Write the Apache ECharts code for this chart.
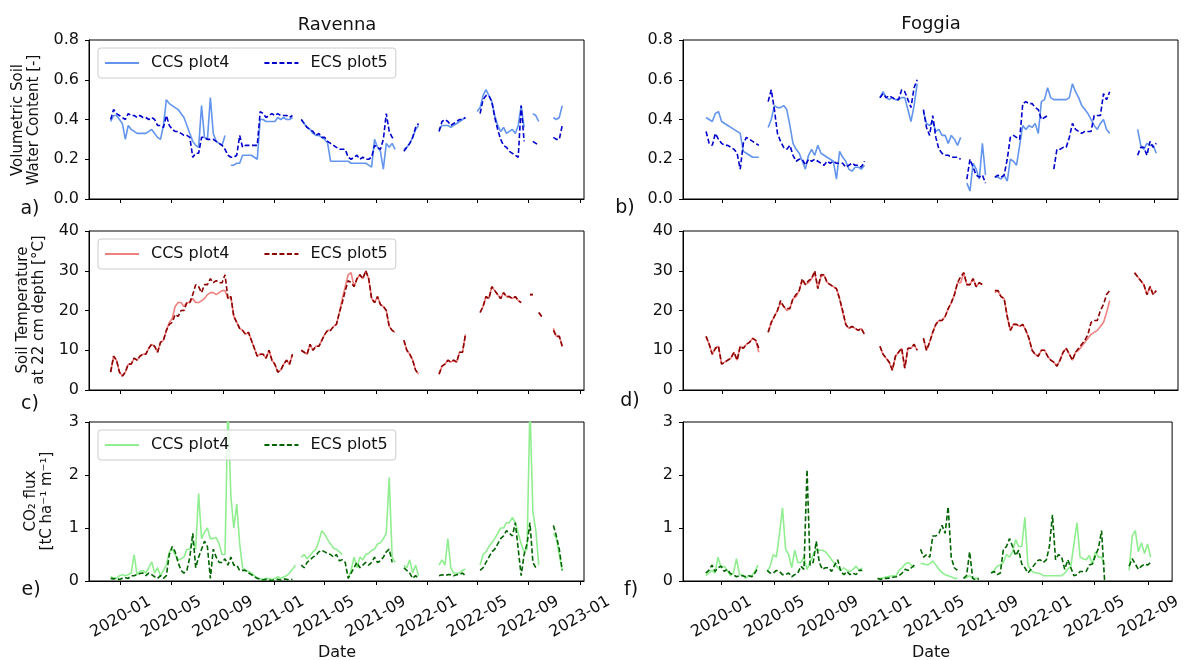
<!DOCTYPE html>
<html><head><meta charset="utf-8">
<script src="https://cdn.jsdelivr.net/npm/echarts@6/dist/echarts.min.js"></script>
<style>html,body{margin:0;padding:0;background:#fff}#c{width:1184px;height:660px}</style>
</head><body><div id="c"></div>
<script>
// Sampling: weekly values, day offsets relative to 2020-01-01
const STEP = 7;
const RAV_START = -24;   // first Ravenna sample (days from 2020-01-01)
const FOG_START = -36;   // first Foggia sample

const leftTicks = ['2020-01','2020-05','2020-09','2021-01','2021-05','2021-09','2022-01','2022-05','2022-09','2023-01'];
const rightTicks = ['2020-01','2020-05','2020-09','2021-01','2021-05','2021-09','2022-01','2022-05','2022-09'];
const legendNames = ['CCS plot4','ECS plot5'];

// Ravenna – volumetric soil water content
const ravVwcCcs = [
0.39,0.42,0.42,0.40,0.38,0.30,0.37,0.35,0.34,0.33,
0.33,0.33,0.33,0.34,0.35,0.33,0.31,0.30,0.37,0.50,
0.48,0.47,0.46,0.45,0.43,0.41,0.37,0.33,0.29,0.27,
0.26,0.47,0.31,0.30,0.51,0.33,0.29,0.28,0.27,0.32,
null,0.17,0.17,0.18,0.18,0.22,0.22,0.22,0.22,0.21,
0.20,0.40,0.40,0.39,0.39,0.39,0.39,0.41,0.40,0.41,
0.40,0.40,0.41,null,null,0.40,0.38,0.36,0.35,0.33,
0.32,0.32,0.31,0.30,0.28,0.19,0.19,0.19,0.19,0.19,
0.19,0.19,0.18,0.18,0.18,0.18,0.18,0.18,0.17,0.16,
0.30,0.26,0.24,0.15,0.28,0.26,0.28,0.25,null,null,
0.25,0.26,0.28,0.31,0.35,0.37,null,null,null,null,
null,null,0.35,0.37,0.37,0.37,0.36,0.37,0.38,0.39,
0.40,0.41,null,null,null,0.44,0.46,0.52,0.55,0.52,
0.49,0.42,0.37,0.34,0.36,0.33,0.34,0.35,0.33,0.37,
0.47,0.36,null,null,0.43,0.42,0.39,null,null,null,
null,0.41,0.40,0.41,0.47];
const ravVwcEcs = [
0.40,0.45,0.43,0.42,0.41,0.40,0.43,0.42,0.42,0.41,
0.42,0.41,0.41,0.40,0.41,0.40,0.37,0.37,0.36,0.42,
0.37,0.35,0.34,0.34,0.33,0.32,0.32,0.31,0.21,0.23,
0.23,0.31,0.31,0.30,0.30,0.30,0.29,0.28,0.27,0.25,
0.22,0.21,0.21,0.22,0.32,0.26,0.27,0.27,0.27,0.27,
0.27,0.44,0.43,0.41,0.42,0.43,0.42,0.43,0.42,0.42,
0.42,0.41,0.42,null,null,0.40,0.38,0.36,0.35,0.34,
0.32,0.33,0.31,0.31,0.29,0.28,0.27,0.26,0.25,0.25,
0.25,0.21,0.20,0.21,0.22,0.20,0.21,0.20,0.20,0.21,
0.27,0.26,0.25,0.30,0.43,0.34,0.31,0.30,null,null,
0.24,0.26,0.28,0.31,0.36,0.38,null,null,null,null,
null,null,0.34,0.39,0.40,0.39,0.37,0.38,0.39,0.40,
0.40,0.41,null,null,null,null,0.43,0.50,0.52,0.52,
0.49,0.41,0.35,0.30,0.27,0.26,0.24,0.23,0.22,0.21,
0.47,0.29,null,null,0.29,0.28,0.27,null,null,null,
null,0.31,0.30,0.30,0.37];

// Ravenna – soil temperature
const ravTempCcs = [
4.5,8.5,7.5,4.5,3.5,4.5,6.5,6.5,8,7.5,
8.5,9,9,10.5,11.5,11,9.5,12,12.5,15,
17,18,21,22,22,21,22,22,23,22,
22,22.5,23,24,24.5,24.5,24,24.5,25,25,
23,23.5,18.5,17,15.5,15,14,14.5,12.5,10.5,
8.5,9,9,8,10,7.5,6.5,4.5,5,6.5,
7.5,6.5,9,null,null,10,9.5,9,11.5,10,
11,11,12.5,14,15,15,16,16.5,19.5,23,
26,29,29.5,26,28,29,28,30,28,23,
22,23.5,21.5,21,20,16,15,14.5,null,null,
12.5,10,9,7.5,5,4,null,null,null,null,
null,null,4,6,6.5,7.5,7,7.5,7,9.5,
9.5,14,null,null,null,null,19.5,21,23.5,23,
26,25,24,23,24.5,23.5,23.5,23,23.5,22.5,
22,null,null,24,24,null,19.5,18.5,null,null,
null,15.5,13.5,13.5,11];
const ravTempEcs = [
4.5,8.5,7.5,4.5,3.5,4.5,6.5,6.5,8,7.5,
8.5,9,9,10.5,11.5,11,9.5,12,12.5,15,
16.5,17,19,18.5,20,20,22,22,24,26.5,
26,24.5,26.5,26.5,28,27,27.5,27,27,29,
23,23.5,18.5,17,15.5,15,14,14.5,12.5,10.5,
8.5,9,9,8,10,7.5,6.5,4.5,5,6.5,
7.5,6.5,9,null,null,10,9.5,9,11.5,10,
11,11,12.5,14,15,15,16,16.5,19.5,22,
25,27.5,27,26,28,29,28,30,28,23,
22,23.5,21.5,21,20,16,15,14.5,null,null,
12.5,10,9,7.5,5,4,null,null,null,null,
null,null,4,6,6.5,7.5,7,7.5,7,9.5,
9.5,14,null,null,null,null,19.5,21,23.5,23,
26,25,24,23,24.5,23.5,23.5,23,23.5,22.5,
22,null,null,24,24,null,19.5,18.5,null,null,
null,15,13.5,13.5,11];

// Ravenna – CO2 flux
const ravCo2Ccs = [
0.08,0.06,0.05,0.10,0.12,0.10,0.12,0.15,0.50,0.12,
0.18,0.20,0.15,0.25,0.36,0.15,0.25,0.10,0.20,0.30,
0.55,0.60,0.50,0.40,0.42,0.45,0.60,0.60,0.75,0.60,
1.65,0.80,0.92,1.00,0.80,0.80,0.82,0.70,0.50,0.50,
3.3,1.6,1.0,1.45,0.70,0.25,0.20,0.18,0.15,0.10,
0.06,0.04,0.03,0.05,0.04,0.03,0.05,0.08,0.05,0.08,
0.10,0.15,0.22,0.30,null,0.45,0.50,0.42,0.48,0.55,
0.60,0.75,0.95,0.88,0.78,0.70,0.62,0.60,0.55,0.50,
null,0.05,0.20,0.45,0.25,0.45,0.40,0.50,0.52,0.58,
0.60,0.70,0.72,0.80,0.90,1.95,0.45,0.35,null,null,
0.30,0.25,0.40,0.15,0.30,0.10,null,null,null,null,
null,null,0.30,0.40,0.30,0.80,0.25,0.15,0.15,0.15,
0.20,0.22,null,null,null,null,0.30,0.50,0.55,0.65,
0.72,0.80,0.90,1.00,1.00,1.10,1.10,1.20,1.10,0.90,
0.70,0.55,0.60,3.3,1.30,0.95,0.30,null,null,null,
null,0.90,0.80,0.50,0.20];
const ravCo2Ecs = [
0.05,0.04,0.05,0.03,0.05,0.06,0.05,0.10,0.10,0.12,
0.14,0.15,0.10,0.15,0.12,0.08,0.05,0.10,0.05,0.10,
0.50,0.65,0.55,0.35,0.20,0.15,0.20,0.45,0.90,0.25,
0.45,0.60,0.75,0.65,0.05,0.60,0.45,0.35,0.35,0.42,
0.30,0.45,0.30,0.30,0.20,0.20,0.20,0.15,0.12,0.08,
0.05,0.03,0.02,0.03,0.02,0.01,0.02,0.03,0.02,0.04,
0.03,0.02,0.03,null,null,0.30,0.25,0.35,0.40,0.45,
0.48,0.55,0.58,0.55,0.52,0.50,0.45,0.50,0.38,0.40,
0.35,0.05,0.15,0.25,0.35,0.25,0.30,0.35,0.30,0.35,
0.45,0.35,0.38,0.45,0.55,0.60,0.35,null,null,null,
0.25,0.20,0.15,0.05,0.10,0.05,null,null,null,null,
null,null,0.10,0.12,0.10,0.12,0.12,0.10,0.12,0.12,
0.15,0.10,null,null,null,null,0.20,0.25,0.35,0.45,
0.55,0.60,0.70,0.80,0.85,0.95,0.90,0.85,1.10,0.60,
0.10,0.50,0.70,1.10,0.35,0.25,null,null,null,null,
null,1.05,0.85,0.60,0.20];

// Foggia – volumetric soil water content
const fogVwcCcs = [
0.41,0.40,0.39,0.43,0.44,0.39,0.38,0.37,0.36,0.35,
0.34,0.33,0.24,0.23,0.22,0.21,0.21,0.21,null,null,
0.36,0.40,0.47,0.46,0.46,0.47,0.45,0.37,0.28,0.25,
0.23,0.19,0.15,0.22,0.25,0.22,0.27,0.23,0.22,0.21,
0.20,0.19,0.10,0.24,0.21,0.19,0.15,0.14,0.16,0.16,
0.15,0.17,null,null,null,null,0.51,0.54,0.51,0.50,
0.51,0.50,0.50,0.51,0.51,0.45,0.39,0.47,0.58,null,
0.44,0.38,0.37,0.39,0.34,0.35,0.32,0.32,0.28,0.32,
0.30,0.27,0.31,null,0.08,0.04,0.18,0.15,0.10,0.28,
0.12,null,null,0.11,0.11,0.10,0.12,0.09,0.20,0.19,
0.17,0.27,0.37,0.35,0.37,0.36,0.38,0.33,0.49,0.50,
0.56,0.51,0.50,0.50,0.50,0.50,0.50,0.51,0.58,0.54,
0.51,0.47,0.45,0.43,0.40,0.37,0.35,0.38,0.40,0.35,
0.33,null,null,null,null,null,null,null,null,0.35,
0.27,0.25,0.28,0.27,0.27,0.23];
const fogVwcEcs = [
0.34,0.28,0.27,0.33,0.30,0.28,0.27,0.27,0.26,0.25,
0.23,0.15,0.28,0.31,0.30,0.29,0.28,0.27,null,null,
0.49,0.55,0.45,0.33,0.29,0.26,0.25,0.27,0.22,0.19,
0.20,0.20,0.17,0.20,0.19,0.20,0.19,0.18,0.17,0.19,
0.18,0.19,0.18,0.18,0.18,0.16,0.17,0.18,0.17,0.17,
0.16,0.19,null,null,null,null,0.51,0.53,0.51,0.52,
0.51,0.50,0.50,0.55,0.54,0.50,0.46,0.56,0.60,null,
0.45,0.36,0.32,0.42,0.31,0.25,0.23,0.22,0.22,0.21,
0.21,0.21,0.20,null,0.10,0.20,0.16,0.12,0.11,0.12,
0.08,null,null,0.11,0.12,0.11,0.12,0.20,0.31,0.32,
0.31,0.30,0.48,0.49,0.48,0.48,0.46,0.45,0.40,0.41,
0.42,null,0.15,0.25,0.25,0.26,0.26,0.31,0.38,0.35,
0.34,0.33,0.34,0.34,0.34,0.42,0.42,0.42,0.53,0.50,
0.54,null,null,null,null,null,null,null,null,0.22,
0.26,0.26,0.22,0.29,0.26,0.28];

// Foggia – soil temperature
const fogTempCcs = [
13.5,11.5,9,10.5,11,6.5,7,7.5,8,9.5,
7.5,11,10.5,11.5,12,13,12.5,9.5,null,null,
14.5,17,18.5,20,22,21,20,20.5,23,23.5,
25,27.5,26.5,27,28,29.5,25.5,28.5,29,27,
26.5,26,25.5,23,19.5,16.5,15.5,16,15.5,15,
15.5,14,null,null,null,null,11,9,8,7,
5,8.5,9.5,10.5,5.5,10.5,10.5,11.5,10,null,
13,10,12,14.5,16.5,17.5,17.5,18.5,20.5,22,
24,27,27,29.5,26.5,26.5,28,26,27,26.5,
null,null,null,24.5,25,23.5,23,18.5,15,16.5,
16.5,16,16.5,15,13,10,9,8.5,10,10,
8.5,7.5,7,6,7.5,9.5,10.5,9,7.5,9.5,
10,11,12,13,14,14.5,15,16,17,19.5,
22.5,null,null,null,null,null,null,null,29.5,28.5,
27.5,26.5,24,26,24,25];
const fogTempEcs = [
13.5,11.5,9,10.5,11,6.5,7,7.5,8,9.5,
7.5,11,10.5,11.5,12,13,12.5,10.5,null,null,
14.5,17,18.5,20,22.5,21,20.5,20.5,23,24,
25,28,26.5,27.5,28,30,25.5,29,29,27,
26.5,26,25.5,23,20,16.5,15.5,16,15.5,15,
15.5,14,null,null,null,null,11,9,8,7,
5,8.5,9.5,10.5,5.5,10.5,10.5,11.5,10,null,
13,10,12,14.5,16.5,17.5,17.5,18.5,20.5,22,
24,27,28.5,29.5,26.5,26.5,28,26,27,26.5,
null,null,null,25,25,23.5,23,18.5,15,16.5,
16.5,16,16.5,15,13,10,9,8.5,10,10,
8.5,7.5,7,6,7.5,9.5,10.5,9,7.5,9.5,
10.5,11.5,12.5,14,17,17.5,17.5,20,21.5,24,
25,null,null,null,null,null,null,null,29.5,28.5,
27.5,26.5,24,26,24,25];

// Foggia – CO2 flux
const fogCo2Ccs = [
0.10,0.15,0.20,0.15,0.45,0.25,0.28,0.20,0.10,0.15,
0.42,0.12,0.12,0.05,0.10,0.10,0.18,0.30,null,null,
0.18,0.28,0.50,0.45,0.88,1.38,0.60,0.50,0.25,0.58,
0.35,0.35,0.45,0.22,0.35,0.50,0.60,0.58,0.58,0.55,
0.48,0.40,0.33,0.25,0.20,0.25,0.20,0.18,0.22,0.28,
0.20,0.25,null,null,null,null,0.03,0.05,0.06,0.08,
0.09,0.10,0.10,0.20,0.25,0.32,0.35,0.30,0.25,null,
0.32,0.33,0.30,0.32,0.38,0.30,0.22,0.16,0.12,0.10,
0.08,0.05,0.05,null,0.05,0.06,0.10,0.05,0.05,0.06,
null,null,null,0.15,0.20,0.28,0.30,0.35,0.50,0.45,
0.55,0.78,0.65,0.65,1.20,0.30,0.20,0.16,0.15,0.14,
0.10,0.10,0.10,0.10,0.10,0.10,0.10,0.15,0.22,0.28,
0.70,1.10,0.45,0.42,0.40,0.48,0.32,0.55,0.45,0.45,
0.30,null,null,null,null,null,null,null,0.20,0.85,
0.95,0.55,0.72,0.52,0.70,0.45];
const fogCo2Ecs = [
0.15,0.20,0.30,0.18,0.25,0.28,0.18,0.22,0.14,0.12,
0.08,0.10,0.10,0.08,0.10,0.08,0.15,0.25,null,null,
0.20,0.15,0.15,0.20,0.18,0.12,0.12,0.15,0.08,0.12,
0.15,0.28,0.22,2.10,0.30,0.35,0.75,0.35,0.22,0.25,
0.25,0.18,0.30,0.40,0.18,0.12,0.18,0.12,0.15,0.12,
0.20,0.20,null,null,null,null,0.05,0.03,0.05,0.05,
0.06,0.07,0.08,0.10,0.15,0.22,0.20,0.25,0.30,null,
0.60,0.45,0.50,0.45,0.85,0.85,0.90,1.05,0.90,1.40,
0.45,0.25,0.20,null,0.05,0.10,0.55,0.05,0.02,0.04,
null,null,null,0.15,0.18,0.12,0.15,0.60,0.65,0.80,
0.65,0.48,0.58,0.32,0.25,0.15,0.22,0.30,0.38,0.40,
0.35,0.40,0.65,1.25,0.40,0.50,0.45,0.22,0.40,0.25,
0.10,0.12,0.18,0.18,0.18,0.30,0.32,0.48,0.62,0.95,
0.00,null,null,null,null,null,null,null,0.28,0.42,
0.32,0.22,0.28,0.32,0.30,0.35];

// ---------------------------------------------------------------
const DAY = 86400000;
const BASE = Date.UTC(2020, 0, 1);
const FONT = 'DejaVu Sans';
function ym(s){ const p = s.split('-'); return Date.UTC(+p[0], +p[1]-1, 1); }
function fmt(v){ const d = new Date(v); return d.getUTCFullYear() + '-' + String(d.getUTCMonth()+1).padStart(2,'0'); }
function toData(arr, start){ return arr.map((v,i) => [BASE + (start + i*STEP)*DAY, v === null ? '-' : v]); }

const leftVals = leftTicks.map(ym), rightVals = rightTicks.map(ym);
const L = {left:89, width:495}, R = {left:683, width:495};
const tops = [40, 231, 422], H = 159;

const grids = [], xAxes = [], yAxes = [];
const yCfg = [
  {max:0.8, interval:0.2, f:v=>v.toFixed(1)},
  {max:40, interval:10, f:v=>String(v)},
  {max:3, interval:1, f:v=>String(v)}
];
for (let r = 0; r < 3; r++) {
  for (let c = 0; c < 2; c++) {
    const side = c === 0 ? L : R;
    grids.push({left:side.left, width:side.width, top:tops[r], height:H, show:true, borderColor:'#000', borderWidth:1, backgroundColor:'transparent'});
    const gi = grids.length - 1;
    const vals = c === 0 ? leftVals : rightVals;
    xAxes.push({
      type:'value', gridIndex:gi,
      min: c === 0 ? BASE - 75.7*DAY : BASE - 88*DAY,
      max: c === 0 ? BASE + 1106*DAY : BASE + 1028*DAY,
      splitLine:{show:false},
      axisLine:{show:true, lineStyle:{color:'#000', width:1}},
      axisTick:{show:true, length:4, customValues: vals, lineStyle:{color:'#000'}},
      axisLabel:{show: r === 2, customValues: vals, formatter: fmt, rotate:30, align:'center', verticalAlign:'middle', margin:36, fontSize:16, color:'#111', fontFamily:FONT}
    });
    yAxes.push({
      type:'value', gridIndex:gi, min:0, max:yCfg[r].max, interval:yCfg[r].interval,
      splitLine:{show:false},
      axisLine:{show:true, lineStyle:{color:'#000', width:1}},
      axisTick:{show:true, length:4, lineStyle:{color:'#000'}},
      axisLabel:{formatter:yCfg[r].f, fontSize:16, color:'#111', fontFamily:FONT, margin:10}
    });
  }
}

const colors = [['#6495ED','#0000CD'], ['#F08080','#8B0000'], ['#90EE90','#006400']];
const panelData = [
  [ravVwcCcs, ravVwcEcs, RAV_START], [fogVwcCcs, fogVwcEcs, FOG_START],
  [ravTempCcs, ravTempEcs, RAV_START], [fogTempCcs, fogTempEcs, FOG_START],
  [ravCo2Ccs, ravCo2Ecs, RAV_START], [fogCo2Ccs, fogCo2Ecs, FOG_START]
];
const series = [];
panelData.forEach((pd, p) => {
  const r = Math.floor(p / 2);
  [0, 1].forEach(k => {
    series.push({
      type:'line', name: legendNames[k] + '|' + p, xAxisIndex:p, yAxisIndex:p,
      data: toData(pd[k], pd[2]), symbol:'none', showSymbol:false, connectNulls:false,
      clip:true, z: 2 + k,
      lineStyle:{color:colors[r][k], width:1.6, type: k === 0 ? 'solid' : [5, 2.5]},
      itemStyle:{color:colors[r][k], opacity:0}
    });
  });
});

const legends = [0, 2, 4].map((p, j) => ({
  data: legendNames.map(n => n + '|' + p),
  formatter: n => n.split('|')[0],
  left: 98, top: tops[j] + 8, orient:'horizontal',
  padding:[7, 8, 7, 6], itemGap:34, itemWidth:34, itemHeight:14,
  itemStyle:{opacity:0},
  backgroundColor:'rgba(255,255,255,0.8)', borderColor:'#cccccc', borderWidth:1, borderRadius:3,
  textStyle:{fontSize:16, color:'#111', fontFamily:FONT, padding:[0,0,0,7]},
  selectedMode:false
}));

function txt(x, y, text, size, rot){
  return {type:'text', x:x, y:y, rotation: rot || 0, silent:true,
    style:{text:text, fontSize:size, fontFamily:FONT, fill:'#111', align:'center', verticalAlign:'middle', textAlign:'center', textVerticalAlign:'middle', lineHeight: 16}};
}
const graphics = [
  txt(337, 25, 'Ravenna', 18), txt(931, 24, 'Foggia', 18),
  txt(26, 120, 'Volumetric Soil\nWater Content [-]', 15, Math.PI/2),
  txt(31, 310, 'Soil Temperature\nat 22 cm depth [°C]', 15, Math.PI/2),
  txt(39, 501, 'CO\u2082 flux\n[tC ha\u207B\u00B9 m\u207B\u00B9]', 15, Math.PI/2),
  txt(30, 209, 'a)', 19), txt(625, 208, 'b)', 19),
  txt(30, 404, 'c)', 19), txt(630, 401, 'd)', 19),
  txt(31, 590, 'e)', 19), txt(631, 590, 'f)', 19),
  txt(337, 653, 'Date', 16), txt(931, 653, 'Date', 16)
];

const chart = echarts.init(document.getElementById('c'), null, {renderer:'canvas'});
chart.setOption({
  animation:false, backgroundColor:'#fff',
  textStyle:{fontFamily:FONT},
  grid:grids, xAxis:xAxes, yAxis:yAxes, series:series, legend:legends, graphic:graphics
});
</script></body></html>
